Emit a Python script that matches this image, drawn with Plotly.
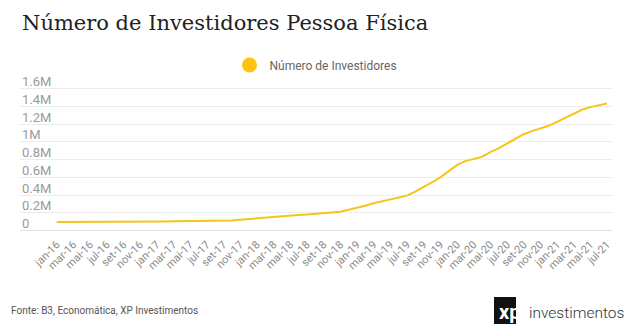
import plotly.graph_objects as go

meses = ["jan", "fev", "mar", "abr", "mai", "jun", "jul", "ago", "set", "out", "nov", "dez"]
anos = ["16", "17", "18", "19", "20", "21"]
categorias = [f"{m}-{a}" for a in anos for m in meses][:67]  # jan-16 .. jul-21

investidores = [
    98000, 98000, 98000, 98000, 98000, 98000, 98000, 99000, 99000, 99000, 99000, 100000,
    100000, 105000, 107000, 108000, 109000, 109000, 110000, 111000, 113000, 116000, 124000, 132000,
    140000, 150000, 162000, 168000, 172000, 178000, 182000, 188000, 196000, 204000, 213000, 235000,
    255000, 280000, 308000, 330000, 356000, 372000, 395000, 440000, 488000, 545000, 600000, 670000,
    738000, 783000, 805000, 830000, 885000, 925000, 980000, 1030000, 1085000, 1120000, 1150000, 1180000,
    1225000, 1270000, 1320000, 1360000, 1390000, 1410000, 1431000,
]

y_ticks = [0, 200000, 400000, 600000, 800000, 1000000, 1200000, 1400000, 1600000]
y_labels = ["0", "0.2M", "0.4M", "0.6M", "0.8M", "1M", "1.2M", "1.4M", "1.6M"]

x_idx = list(range(len(categorias)))
tick_idx = x_idx[::2]
tick_txt = categorias[::2]

YELLOW = "#F7C41A"

# plot area: x 20..612, y 84..235 ; range chosen so 0 -> 230.7px and 1.6M -> 88.3px
fig = go.Figure()
fig.add_trace(go.Scatter(
    x=x_idx, y=investidores, mode="lines",
    line=dict(color=YELLOW, width=2), showlegend=False,
    hoverinfo="skip",
))
fig.add_trace(go.Scatter(
    x=[None], y=[None], mode="markers", name="Número de Investidores",
    marker=dict(color="#FFC20E", size=15, symbol="circle"),
))

PT, PB = 84, 235
PH = PB - PT

fig.update_layout(
    width=638, height=329,
    margin=dict(l=20, r=26, t=PT, b=329 - PB),
    paper_bgcolor="white", plot_bgcolor="white",
    font=dict(family="Roboto", color="#666666"),
    showlegend=True,
    legend=dict(
        orientation="h", x=0.5, xanchor="center", y=1 + (PT - 65) / PH, yanchor="middle",
        font=dict(family="Roboto", size=12, color="#666666"),
        bgcolor="rgba(0,0,0,0)", itemwidth=30,
    ),
    xaxis=dict(
        range=[-4.4, 66.6],
        tickmode="array", tickvals=tick_idx, ticktext=tick_txt,
        tickangle=-45, tickfont=dict(family="Roboto", size=11, color="#8a8a8a"),
        showgrid=False, zeroline=False, showline=False, ticks="",
        fixedrange=True,
    ),
    yaxis=dict(
        range=[-48000, 1650000],
        tickmode="array", tickvals=y_ticks, showticklabels=False,
        showgrid=True, gridcolor="#ececec", gridwidth=1,
        zeroline=True, zerolinecolor="#e0e0e0", zerolinewidth=1,
        showline=False, ticks="",
        fixedrange=True,
    ),
)

# Y labels, left-aligned above their grid lines
for v, t in zip(y_ticks, y_labels):
    fig.add_annotation(
        text=t, xref="paper", yref="y", x=0, y=v,
        xanchor="left", yanchor="middle", yshift=7, showarrow=False,
        font=dict(family="Roboto", size=13, color="#9a9a9a"),
    )

# Title
fig.add_annotation(
    text="Número de Investidores Pessoa Física",
    xref="paper", yref="paper", x=0.0, y=1 + (PT - 23) / PH,
    xanchor="left", yanchor="middle", showarrow=False,
    font=dict(family="DejaVu Serif", size=21, color="#222222"),
)

# Footer source
fig.add_annotation(
    text="Fonte: B3, Economática, XP Investimentos",
    xref="paper", yref="paper", x=(9 - 20) / 592, y=-(310 - PB) / PH,
    xanchor="left", yanchor="middle", showarrow=False,
    font=dict(family="Roboto", size=10, color="#555555"),
)

# XP logo
fig.add_shape(
    type="rect", xref="paper", yref="paper",
    x0=(494 - 20) / 592, x1=(516 - 20) / 592,
    y0=-(324 - PB) / PH, y1=-(297 - PB) / PH,
    fillcolor="#111111", line=dict(width=0), layer="above",
)
fig.add_annotation(
    text="<b>xp</b>", xref="paper", yref="paper",
    x=(509 - 20) / 592, y=-(312 - PB) / PH,
    xanchor="center", yanchor="middle", showarrow=False,
    font=dict(family="Roboto", size=20, color="white"),
)
fig.add_annotation(
    text="investimentos", xref="paper", yref="paper",
    x=(527 - 20) / 592, y=-(313 - PB) / PH,
    xanchor="left", yanchor="middle", showarrow=False,
    font=dict(family="Roboto", size=15.5, color="#333333", weight=300),
)

fig.write_html("out.html")
